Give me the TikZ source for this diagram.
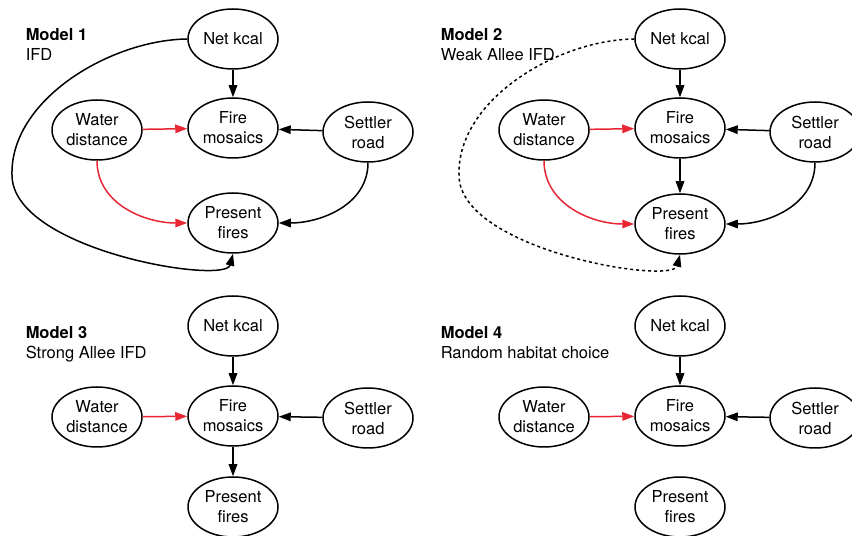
\documentclass[tikz,border=0pt]{standalone}
\usepackage{fontspec}
\setmainfont{TeX Gyre Heros}
\usepackage{tikz}
\usetikzlibrary{positioning,shapes}
\usetikzlibrary{calc}
\usetikzlibrary{shapes.geometric,arrows.meta}
\definecolor{redcol}{RGB}{232,38,52}

\begin{document}
\begin{tikzpicture}[line join=bevel,line width=1.5bp,
    var/.style={ellipse,draw,minimum width=90bp,minimum height=60bp,inner sep=0pt,align=center},
    title/.style={anchor=base west,inner sep=0pt,font=\fontsize{16.5bp}{20bp}\selectfont\bfseries},
    subtitle/.style={anchor=base west,inner sep=0pt},
    arr/.style={-{Triangle[length=12bp,width=8.5bp]}},
    redge/.style={arr,redcol},
    weak/.style={arr,dash pattern=on 3bp off 3bp},
    font=\fontsize{16.5bp}{20bp}\selectfont]
  \useasboundingbox (0bp,0bp) rectangle (852bp,536bp);
%%
  % Node: Model 1
  \node [title] (T1) at (25bp,495bp) {Model 1};
  \node [subtitle] (S1) at (25bp,475bp) {IFD};
  \node [var] (net1) at (233bp,497bp) {Net kcal};
  \node [var] (fire1) at (233bp,408bp) {Fire\\mosaics};
  \node [var] (water1) at (97bp,406bp) {Water\\distance};
  \node [var] (settler1) at (368bp,404bp) {Settler\\road};
  \node [var] (present1) at (233bp,313bp) {Present\\fires};
  % Edge: net1 -> fire1
  \draw [arr] (net1) -- (fire1);
  % Edge: water1 -> fire1
  \draw [redge] (water1) -- (fire1);
  % Edge: settler1 -> fire1
  \draw [arr] (settler1) -- (fire1);
  % Edge: water1 -> present1
  \draw [redge] (water1.south) to[out=-90,in=180] (present1.west);
  % Edge: settler1 -> present1
  \draw [arr] (settler1.south) to[out=-90,in=0] (present1.east);
  % Edge: net1 -> present1
  \draw [arr] (net1.west) .. controls (110bp,496bp) and (10bp,436bp) .. (12bp,361bp) .. controls (12bp,286bp) and (225bp,251bp) .. (present1.south);
%%
  % Node: Model 2
  \node [title] (T2) at (440bp,495bp) {Model 2};
  \node [subtitle] (S2) at (440bp,475bp) {Weak Allee IFD};
  \node [var] (net2) at (680bp,497bp) {Net kcal};
  \node [var] (fire2) at (680bp,408bp) {Fire\\mosaics};
  \node [var] (water2) at (544bp,406bp) {Water\\distance};
  \node [var] (settler2) at (815bp,404bp) {Settler\\road};
  \node [var] (present2) at (680bp,312bp) {Present\\fires};
  % Edge: net2 -> fire2
  \draw [arr] (net2) -- (fire2);
  % Edge: water2 -> fire2
  \draw [redge] (water2) -- (fire2);
  % Edge: settler2 -> fire2
  \draw [arr] (settler2) -- (fire2);
  % Edge: fire2 -> present2
  \draw [arr] (fire2) -- (present2);
  % Edge: water2 -> present2
  \draw [redge] (water2.south) to[out=-90,in=180] (present2.west);
  % Edge: settler2 -> present2
  \draw [arr] (settler2.south) to[out=-90,in=0] (present2.east);
  % Edge: net2 -> present2
  \draw [weak] (net2.west) .. controls (557bp,496bp) and (457bp,436bp) .. (459bp,361bp) .. controls (459bp,286bp) and (672bp,251bp) .. (present2.south);
%%
  % Node: Model 3
  \node [title] (T3) at (25bp,197bp) {Model 3};
  \node [subtitle] (S3) at (25bp,177bp) {Strong Allee IFD};
  \node [var] (net3) at (233bp,210bp) {Net kcal};
  \node [var] (fire3) at (233bp,120bp) {Fire\\mosaics};
  \node [var] (water3) at (97bp,119bp) {Water\\distance};
  \node [var] (settler3) at (368bp,118bp) {Settler\\road};
  \node [var] (present3) at (233bp,29bp) {Present\\fires};
  % Edge: net3 -> fire3
  \draw [arr] (net3) -- (fire3);
  % Edge: water3 -> fire3
  \draw [redge] (water3) -- (fire3);
  % Edge: settler3 -> fire3
  \draw [arr] (settler3) -- (fire3);
  % Edge: fire3 -> present3
  \draw [arr] (fire3) -- (present3);
%%
  % Node: Model 4
  \node [title] (T4) at (440bp,197bp) {Model 4};
  \node [subtitle] (S4) at (440bp,177bp) {Random habitat choice};
  \node [var] (net4) at (680bp,210bp) {Net kcal};
  \node [var] (fire4) at (680bp,120bp) {Fire\\mosaics};
  \node [var] (water4) at (544bp,119bp) {Water\\distance};
  \node [var] (settler4) at (815bp,118bp) {Settler\\road};
  \node [var] (present4) at (680bp,29bp) {Present\\fires};
  % Edge: net4 -> fire4
  \draw [arr] (net4) -- (fire4);
  % Edge: water4 -> fire4
  \draw [redge] (water4) -- (fire4);
  % Edge: settler4 -> fire4
  \draw [arr] (settler4) -- (fire4);
%
\end{tikzpicture}
\end{document}
